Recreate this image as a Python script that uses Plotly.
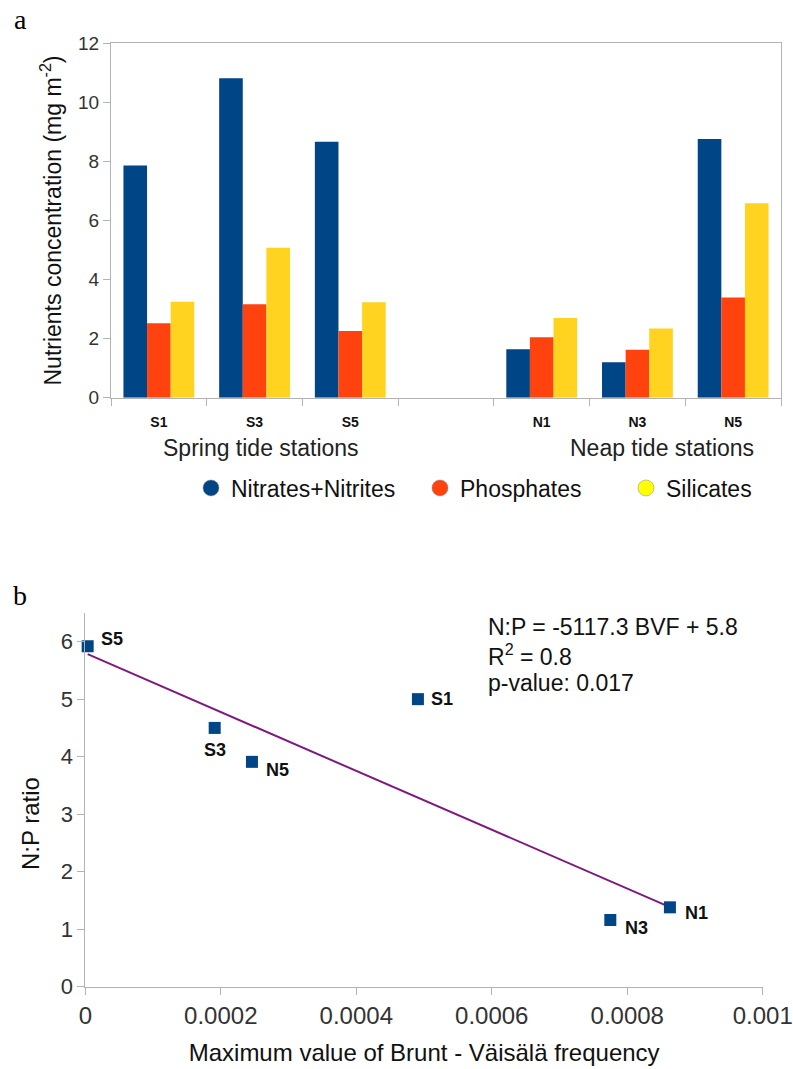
import plotly.graph_objects as go

W, H = 793, 1069

# ---------------- data: panel a ----------------
stations = ["S1", "S3", "S5", "N1", "N3", "N5"]
category_order = ["S1", "S3", "S5", " ", "N1", "N3", "N5"]
nitrates = [7.86, 10.82, 8.67, 1.64, 1.20, 8.76]
phosphates = [2.52, 3.16, 2.26, 2.05, 1.62, 3.39]
silicates = [3.25, 5.08, 3.23, 2.70, 2.34, 6.58]
series_names = ["Nitrates+Nitrites", "Phosphates", "Silicates"]
group_labels = ["Spring tide stations", "Neap tide stations"]
y_ticks_a = [0, 2, 4, 6, 8, 10, 12]

# ---------------- data: panel b ----------------
point_labels = ["S5", "S3", "N5", "S1", "N3", "N1"]
bvf = [0.0000035, 0.000191, 0.000246, 0.000491, 0.000775, 0.000863]
np_ratio = [5.92, 4.50, 3.91, 5.00, 1.16, 1.38]
fit_slope = -5117.3
fit_intercept = 5.8
x_ticks_b = [0, 0.0002, 0.0004, 0.0006, 0.0008, 0.001]
x_ticktext_b = ["0", "0.0002", "0.0004", "0.0006", "0.0008", "0.001"]
y_ticks_b = [0, 1, 2, 3, 4, 5, 6]
eq_lines = ["N:P = -5117.3 BVF + 5.8", "R<sup>2</sup> = 0.8", "p-value: 0.017"]

# ---------------- styles ----------------
bar_colors = ["#004586", "#ff420e", "#ffd320"]
legend_colors = ["#004586", "#ff420e", "#ffff00"]
AX = "#b3b3b3"
TXT = "#333333"
SANS = "Liberation Sans"
SERIF = "Liberation Serif"


def px(x):
    return x / W


def py(y):
    return 1 - y / H


fig = go.Figure()

# bars
for name, vals, col in zip(series_names, [nitrates, phosphates, silicates], bar_colors):
    fig.add_trace(go.Bar(x=stations, y=vals, name=name, marker=dict(color=col, line=dict(width=0)),
                         showlegend=False, xaxis="x", yaxis="y"))

# legend entries (circle symbols)
legend_ids = ["legend", "legend2", "legend3"]
for name, col, lid in zip(series_names, legend_colors, legend_ids):
    fig.add_trace(go.Scatter(x=[None], y=[None], mode="markers", name=name,
                             marker=dict(symbol="circle", size=16, color=col,
                                         line=dict(width=0.5, color="#888888")),
                             legend=lid, xaxis="x", yaxis="y", showlegend=True))

# regression line
fit_x = [min(bvf), max(bvf)]
fit_y = [fit_intercept + fit_slope * v for v in fit_x]
fig.add_trace(go.Scatter(x=fit_x, y=fit_y, mode="lines", line=dict(color="#7e1a7e", width=2),
                         showlegend=False, xaxis="x2", yaxis="y2", cliponaxis=False))

# scatter points
fig.add_trace(go.Scatter(x=bvf, y=np_ratio, mode="markers",
                         marker=dict(symbol="square", size=12, color="#004586"),
                         showlegend=False, xaxis="x2", yaxis="y2", cliponaxis=False))

annotations = []
# point labels
label_shift = {"S5": (24, 7), "S3": (0, -22), "N5": (26, -8),
               "S1": (24, 0), "N3": (26, -8), "N1": (27, -6)}
for lab, xv, yv in zip(point_labels, bvf, np_ratio):
    dx, dy = label_shift[lab]
    annotations.append(dict(x=xv, y=yv, xref="x2", yref="y2", text=lab, showarrow=False,
                            xshift=dx, yshift=dy,
                            font=dict(family=SANS, size=18, color="#111111", weight="bold")))

# equation
for i, line in enumerate(eq_lines):
    annotations.append(dict(x=px(486), y=py(627 + 28 * i), xref="paper", yref="paper",
                            xanchor="left", yanchor="middle", text=line, showarrow=False,
                            font=dict(family=SANS, size=23, color="#111111")))

# group labels
for lab, cx in zip(group_labels, [261, 662]):
    annotations.append(dict(x=px(cx), y=py(448), xref="paper", yref="paper", text=lab,
                            showarrow=False, xanchor="center", yanchor="middle",
                            font=dict(family=SANS, size=23, color="#222222")))

# panel letters
for lab, (cx, cy) in zip(["a", "b"], [(20, 19), (20, 595)]):
    annotations.append(dict(x=px(cx), y=py(cy), xref="paper", yref="paper", text=lab,
                            showarrow=False, xanchor="center", yanchor="middle",
                            font=dict(family=SERIF, size=28, color="#000000")))

# N:P ratio title
annotations.append(dict(x=px(30), y=py(824), xref="paper", yref="paper", text="N:P ratio",
                        showarrow=False, textangle=-90, xanchor="center", yanchor="middle",
                        font=dict(family=SANS, size=24, color="#111111")))

leg_common = dict(xanchor="left", yanchor="middle", bgcolor="rgba(0,0,0,0)", borderwidth=0,
                  font=dict(family=SANS, size=23, color="#111111"), itemclick=False,
                  itemdoubleclick=False)

fig.update_layout(
    template="none",
    width=W, height=H, margin=dict(l=0, r=0, t=0, b=0, autoexpand=False),
    paper_bgcolor="white", plot_bgcolor="white",
    barmode="group", bargap=0.26, bargroupgap=0,
    font=dict(family=SANS, color=TXT),
    annotations=annotations,
    legend=dict(x=px(191), y=py(488), **leg_common),
    legend2=dict(x=px(420), y=py(488), **leg_common),
    legend3=dict(x=px(626), y=py(488), **leg_common),
    xaxis=dict(domain=[px(111), px(781)], type="category", categoryorder="array",
               categoryarray=category_order, range=[-0.5, 6.5], tickson="boundaries",
               ticks="outside", ticklen=7, tickcolor=AX, showline=True, linecolor=AX,
               linewidth=1, mirror=True, showgrid=False, zeroline=False, automargin=False,
               ticklabelstandoff=11,
               tickfont=dict(family=SANS, size=14, color="#111111", weight="bold"),
               fixedrange=True),
    yaxis=dict(domain=[py(397.7), py(43.3)], range=[0, 12], tickvals=y_ticks_a,
               ticks="outside", ticklen=7, tickcolor=AX, showline=True, linecolor=AX,
               linewidth=1, mirror=True, showgrid=False, zeroline=False, automargin=False,
               tickfont=dict(family=SANS, size=19, color=TXT),
               title=dict(text="Nutrients concentration (mg m<sup>-2</sup>)",
                          font=dict(family=SANS, size=23, color="#111111"), standoff=10),
               fixedrange=True),
    xaxis2=dict(domain=[px(85.3), px(763)], range=[0, 0.0010004], tickvals=x_ticks_b,
                ticktext=x_ticktext_b, ticks="outside", ticklen=7, tickcolor=AX,
                showline=True, linecolor=AX, linewidth=1, showgrid=False, zeroline=False,
                anchor="y2", automargin=False, tickfont=dict(family=SANS, size=24, color=TXT),
                title=dict(text="Maximum value of Brunt - Väisälä frequency",
                           font=dict(family=SANS, size=24, color="#111111"), standoff=16),
                fixedrange=True),
    yaxis2=dict(domain=[py(986.7), py(612.9)], range=[0, 6.5], tickvals=y_ticks_b,
                ticks="outside", ticklen=7, tickcolor=AX, showline=True, linecolor=AX,
                linewidth=1, showgrid=False, zeroline=False, anchor="x2", automargin=False,
                tickfont=dict(family=SANS, size=22, color=TXT), fixedrange=True),
)

fig.write_html("out.html")
